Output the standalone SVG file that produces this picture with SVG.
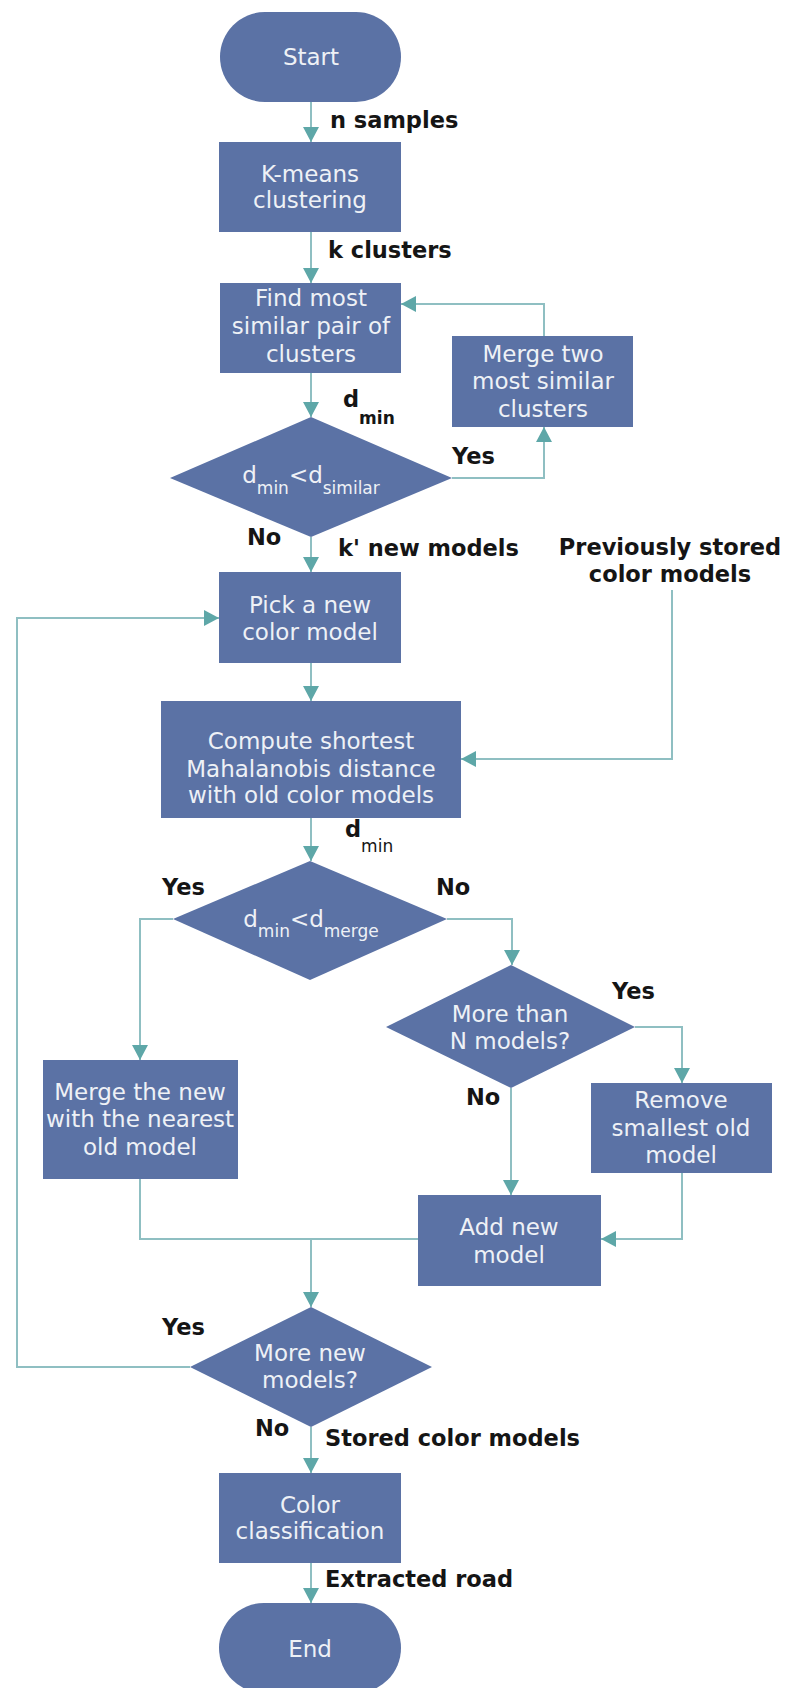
<svg xmlns="http://www.w3.org/2000/svg" width="785" height="1688" viewBox="0 0 785 1688">
<style>
.n{fill:#5b72a5;}
.t{font-family:"DejaVu Sans","Verdana",sans-serif;font-size:23px;fill:#eef1f6;text-anchor:middle;}
.l{font-family:"DejaVu Sans","Verdana",sans-serif;font-size:22.5px;font-weight:bold;fill:#151515;}
.c{fill:none;stroke:#8fbfc2;stroke-width:2;}
.a{marker-end:url(#ah);}
</style>
<defs>
<marker id="ah" markerUnits="userSpaceOnUse" markerWidth="16" markerHeight="16" refX="15" refY="8" orient="auto">
<path d="M0,0 L15,8 L0,16 z" fill="#5ea7a8"/>
</marker>
</defs>
<rect width="785" height="1688" fill="#ffffff"/>

<g id="connectors">
<path class="c a" d="M311,102 V142"/>
<path class="c a" d="M311,232 V283"/>
<path class="c a" d="M311,373 V417"/>
<path class="c a" d="M452,478 H544 V427"/>
<path class="c a" d="M544,336 V304 H401"/>
<path class="c a" d="M311,537 V572"/>
<path class="c a" d="M311,663 V701"/>
<path class="c a" d="M672,590 V759 H461"/>
<path class="c a" d="M311,818 V861"/>
<path class="c a" d="M173,919 H140 V1060"/>
<path class="c a" d="M447,919 H512 V965"/>
<path class="c a" d="M635,1027 H682 V1083"/>
<path class="c a" d="M511,1088 V1195"/>
<path class="c a" d="M682,1173 V1239 H601"/>
<path class="c" d="M140,1179 V1239 H418"/>
<path class="c a" d="M311,1239 V1307"/>
<path class="c a" d="M190,1367 H17 V618 H219"/>
<path class="c a" d="M311,1427 V1473"/>
<path class="c a" d="M311,1563 V1603"/>
</g>

<g id="labels">
<text class="l" x="330" y="128">n samples</text>
<text class="l" x="328" y="258">k clusters</text>
<text class="l" x="343" y="407">d<tspan dy="17" font-size="17">min</tspan></text>
<text class="l" x="452" y="464">Yes</text>
<text class="l" x="247" y="545">No</text>
<text class="l" x="338" y="556">k' new models</text>
<text class="l" x="670" y="555" text-anchor="middle">Previously stored</text>
<text class="l" x="670" y="582" text-anchor="middle">color models</text>
<text class="l" x="345" y="837">d<tspan dy="15" font-size="17" font-weight="normal">min</tspan></text>
<text class="l" x="162" y="895">Yes</text>
<text class="l" x="436" y="895">No</text>
<text class="l" x="612" y="999">Yes</text>
<text class="l" x="466" y="1105">No</text>
<text class="l" x="162" y="1335">Yes</text>
<text class="l" x="255" y="1436">No</text>
<text class="l" x="325" y="1446">Stored color models</text>
<text class="l" x="325" y="1587">Extracted road</text>
</g>

<g id="start">
<rect class="n" x="220" y="12" width="181" height="90" rx="45" ry="45"/>
<text class="t" x="311" y="65">Start</text>
</g>

<g id="kmeans">
<rect class="n" x="219" y="142" width="182" height="90"/>
<text class="t" x="310" y="182">K-means</text>
<text class="t" x="310" y="208">clustering</text>
</g>

<g id="find">
<rect class="n" x="220" y="283" width="181" height="90"/>
<text class="t" x="311" y="306">Find most</text>
<text class="t" x="311" y="334">similar pair of</text>
<text class="t" x="311" y="362">clusters</text>
</g>

<g id="mergetwo">
<rect class="n" x="452" y="336" width="181" height="91"/>
<text class="t" x="543" y="362">Merge two</text>
<text class="t" x="543" y="389">most similar</text>
<text class="t" x="543" y="417">clusters</text>
</g>

<g id="dsimilar">
<polygon class="n" points="311,417 452,478 311,537 170,478"/>
<text class="t" x="311" y="483">d<tspan dy="11" font-size="17">min</tspan><tspan dy="-11">&lt;d</tspan><tspan dy="11" font-size="17">similar</tspan></text>
</g>

<g id="pick">
<rect class="n" x="219" y="572" width="182" height="91"/>
<text class="t" x="310" y="613">Pick a new</text>
<text class="t" x="310" y="640">color model</text>
</g>

<g id="compute">
<rect class="n" x="161" y="701" width="300" height="117"/>
<text class="t" x="311" y="749">Compute shortest</text>
<text class="t" x="311" y="777">Mahalanobis distance</text>
<text class="t" x="311" y="803">with old color models</text>
</g>

<g id="dmerge">
<polygon class="n" points="310,861 447,919 310,980 173,919"/>
<text class="t" x="311" y="927">d<tspan dy="10" font-size="17">min</tspan><tspan dy="-10">&lt;d</tspan><tspan dy="10" font-size="17">merge</tspan></text>
</g>

<g id="mergenew">
<rect class="n" x="43" y="1060" width="195" height="119"/>
<text class="t" x="140" y="1100">Merge the new</text>
<text class="t" x="140" y="1127">with the nearest</text>
<text class="t" x="140" y="1155">old model</text>
</g>

<g id="morethan">
<polygon class="n" points="511,965 635,1027 511,1088 386,1027"/>
<text class="t" x="510" y="1022">More than</text>
<text class="t" x="510" y="1049">N models?</text>
</g>

<g id="remove">
<rect class="n" x="591" y="1083" width="181" height="90"/>
<text class="t" x="681" y="1108">Remove</text>
<text class="t" x="681" y="1136">smallest old</text>
<text class="t" x="681" y="1163">model</text>
</g>

<g id="add">
<rect class="n" x="418" y="1195" width="183" height="91"/>
<text class="t" x="509" y="1235">Add new</text>
<text class="t" x="509" y="1263">model</text>
</g>

<g id="morenew">
<polygon class="n" points="311,1307 432,1367 311,1427 190,1367"/>
<text class="t" x="310" y="1361">More new</text>
<text class="t" x="310" y="1388">models?</text>
</g>

<g id="color">
<rect class="n" x="219" y="1473" width="182" height="90"/>
<text class="t" x="310" y="1513">Color</text>
<text class="t" x="310" y="1539">classification</text>
</g>

<g id="end">
<rect class="n" x="219" y="1603" width="182" height="90" rx="45" ry="45"/>
<text class="t" x="310" y="1657">End</text>
</g>
</svg>
